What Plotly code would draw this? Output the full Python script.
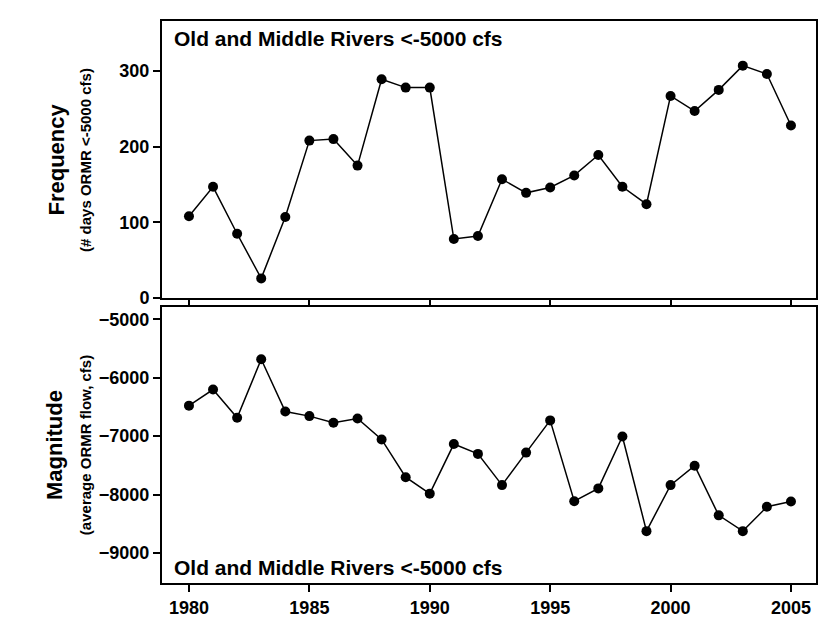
import plotly.graph_objects as go
from plotly.subplots import make_subplots

years = list(range(1980, 2006))
frequency = [108, 147, 85, 26, 107, 208, 210, 175, 289, 278, 278, 78, 82, 157,
             139, 146, 162, 189, 147, 124, 267, 247, 275, 307, 296, 228]
magnitude = [-6478, -6202, -6685, -5685, -6578, -6657, -6770, -6697, -7056, -7702,
             -7983, -7135, -7303, -7837, -7281, -6730, -8112, -7893, -7006, -8624,
             -7837, -7506, -8354, -8624, -8208, -8118]

fig = make_subplots(rows=2, cols=1, vertical_spacing=0.016)

style = dict(mode="lines+markers", line=dict(color="black", width=1.5),
             marker=dict(color="black", size=10), showlegend=False)
fig.add_trace(go.Scatter(x=years, y=frequency, **style), row=1, col=1)
fig.add_trace(go.Scatter(x=years, y=magnitude, **style), row=2, col=1)

axfont = dict(family="Arial, Liberation Sans", size=18, color="black", weight="bold")
common = dict(showline=True, linecolor="black", linewidth=2, mirror=True,
              ticks="outside", ticklen=7, tickwidth=2, tickcolor="black",
              showgrid=False, zeroline=False, tickfont=axfont)

fig.update_xaxes(range=[1978.88, 2006.04], tickvals=[1980, 1985, 1990, 1995, 2000, 2005], **common)
fig.update_xaxes(showticklabels=False, row=1, col=1)
fig.update_yaxes(range=[0, 366], tickvals=[0, 100, 200, 300], row=1, col=1, **common)
fig.update_yaxes(range=[-9511, -4792], tickvals=[-9000, -8000, -7000, -6000, -5000],
                 row=2, col=1, **common)
fig.layout.yaxis.domain = [0.507, 1]
fig.layout.yaxis2.domain = [0, 0.491]

lab = dict(family="Arial, Liberation Sans", color="black")
side = dict(xref="paper", yref="paper", textangle=-90, showarrow=False,
            xanchor="center", yanchor="middle")
ann = [
    dict(text="<b>Old and Middle Rivers <-5000 cfs</b>", x=0.015, y=0.992, xref="paper", yref="paper",
         xanchor="left", yanchor="top", showarrow=False, font=dict(size=21, **lab)),
    dict(text="<b>Old and Middle Rivers <-5000 cfs</b>", x=0.015, y=0.003, xref="paper", yref="paper",
         xanchor="left", yanchor="bottom", showarrow=False, font=dict(size=21, **lab)),
    dict(text="<b>Frequency</b>", x=-0.161, y=0.753, font=dict(size=22, **lab), **side),
    dict(text="<b>(# days ORMR <-5000 cfs)</b>", x=-0.116, y=0.753, font=dict(size=15, **lab), **side),
    dict(text="<b>Magnitude</b>", x=-0.164, y=0.245, font=dict(size=22, **lab), **side),
    dict(text="<b>(average ORMR flow, cfs)</b>", x=-0.118, y=0.245, font=dict(size=15, **lab), **side),
]
fig.update_layout(width=840, height=625, margin=dict(l=154, r=32, t=13, b=50),
                  plot_bgcolor="white", paper_bgcolor="white", annotations=ann)
fig.write_html("out.html")
